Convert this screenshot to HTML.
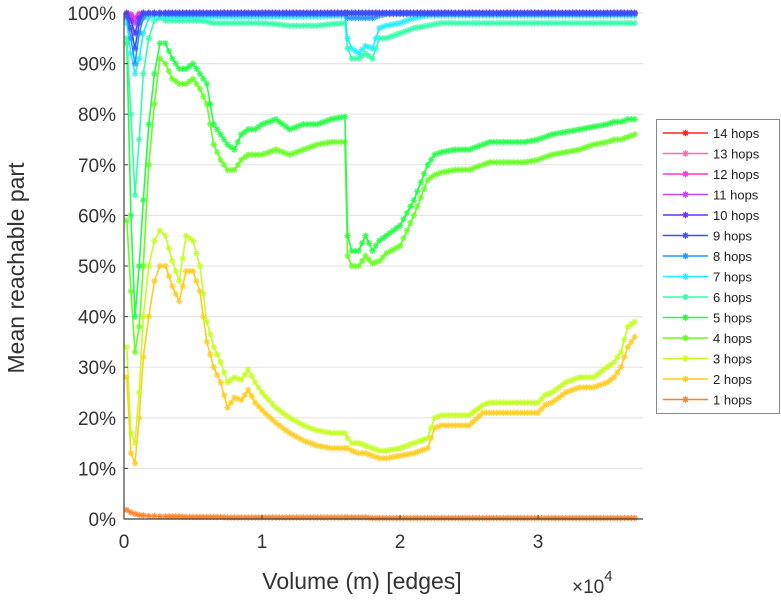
<!DOCTYPE html>
<html><head><meta charset="utf-8"><style>
body{margin:0;background:#fff;}
svg{display:block;font-family:"Liberation Sans",sans-serif;}
</style></head><body>
<svg id="chart" width="781" height="600" viewBox="0 0 781 600">
<g id="grid"></g>
<g id="series"></g>
<g id="axes"></g>
<text transform="translate(24,268) rotate(-90)" text-anchor="middle" font-size="23" fill="#333">Mean reachable part</text>
<text x="362" y="589" text-anchor="middle" font-size="23" fill="#333">Volume (m) [edges]</text>
<text x="572" y="593" font-size="19" fill="#333">×10<tspan dy="-12" font-size="15">4</tspan></text>
<g id="legend"></g>
</svg>
<script>
const xs=[0.02,0.05,0.08,0.11,0.14,0.18,0.22,0.26,0.30,0.35,0.40,0.45,0.50,0.55,0.60,0.65,0.70,0.75,0.80,0.85,0.90,0.95,1.0,1.1,1.2,1.3,1.4,1.5,1.6,1.62,1.65,1.7,1.75,1.8,1.85,1.9,2.0,2.1,2.2,2.25,2.3,2.4,2.5,2.6,2.65,2.7,2.8,2.9,3.0,3.05,3.1,3.2,3.3,3.4,3.5,3.55,3.6,3.65,3.7];
const hops1=[1.8,1.3,1.0,0.8,0.7,0.6,0.6,0.5,0.5,0.5,0.5,0.4,0.4,0.4,0.4,0.4,0.4,0.3,0.3,0.3,0.3,0.3,0.3,0.3,0.3,0.3,0.3,0.3,0.3,0.3,0.3,0.3,0.3,0.2,0.2,0.2,0.2,0.2,0.2,0.2,0.2,0.2,0.2,0.2,0.2,0.2,0.2,0.2,0.2,0.2,0.2,0.2,0.2,0.2,0.2,0.2,0.2,0.2,0.2];
const hops2=[28,13,11,20,32,40,47,50,50,46,43,49,49,45,35,30,27,22,24,23.5,25.5,23,21.5,19,17,15.5,14.5,14,14,14,13.5,13,13,12.5,12,12,12.5,13,14,18,18.5,18.5,18.5,21,21,21,21,21,21,22.5,23,25,26,26,27,28,30,34,36];
const hops3=[34,17,15,25,40,50,55,57,56,51,47,56,55,50,39,34,31,27,28,27.5,29.5,27,25,22,20,18.5,17.5,17,17,16,15,15,14.5,14,13.5,13.5,14,15,16,20,20.5,20.5,20.5,22.5,23,23,23,23,23,24.5,25,27,28,28,30,31,33,38,39];
const hops4=[59,45,33,38,50,70,82,91,90,87,86,86,87,85,82,74,71,69,69,71,72,72,72,73,72,73,74,74.5,74.5,52,50,50,52,50.5,51,52.5,54,60,67,68,68.5,69,69,70,70.5,70.5,70.5,70.5,71,71.5,72,72.5,73,74,74.5,75,75,75.5,76];
const hops5=[94,60,40,50,63,78,88,94,94,91,89,89,90,88,86,78,76,74,73,76,77,77,78,79,77,78,78,79,79.5,56,53,53,56,53,55,56,58,63,70,72,72.5,73,73,74,74.5,74.5,74.5,74.5,75,75.5,76,76.5,77,77.5,78,78.5,78.5,79,79];
const hops6=[95,80,64,75,88,95,98.5,99,98.5,98.5,98.5,98.5,98.5,98.5,98.3,98,98,98,98,98,98,98,98,97.8,97.5,97.5,97.5,97.8,98,93,91,91,92,91,95,95,96,97,97.5,97.8,98,98,98,98,98,98,98,98,98,98,98,98,98,98,98,98,98,98,98];
const hops7=[98,92,88,91,96,99,99.5,99.3,99.3,99.3,99.3,99.3,99.3,99.3,99.3,99.3,99.3,99.3,99.3,99.3,99.3,99.3,99.3,99.3,99.3,99.3,99.3,99.4,99.5,95,93,92,93.5,93,97,97.5,98,99,99.5,99.5,99.5,99.5,99.5,99.5,99.5,99.5,99.5,99.5,99.5,99.5,99.5,99.5,99.5,99.5,99.5,99.5,99.5,99.5,99.5];
const hops8=[99,95,90,96,99,99.8,99.8,99.8,99.8,99.8,99.8,99.8,99.8,99.8,99.8,99.8,99.8,99.8,99.8,99.8,99.8,99.8,99.8,99.8,99.8,99.8,99.8,99.8,99.8,99,99,99,99,99,99.5,99.8,99.8,99.8,99.8,99.8,99.8,99.8,99.8,99.8,99.8,99.8,99.8,99.8,99.8,99.8,99.8,99.8,99.8,99.8,99.8,99.8,99.8,99.8,99.8];
const hops9=[99.5,97,93,98,99.8,100,100,100,100,100,100,100,100,100,100,100,100,100,100,100,100,100,100,100,100,100,100,100,100,100,100,100,100,100,100,100,100,100,100,100,100,100,100,100,100,100,100,100,100,100,100,100,100,100,100,100,100,100,100];
const hops10=[100,98.5,96,99,100,100,100,100,100,100,100,100,100,100,100,100,100,100,100,100,100,100,100,100,100,100,100,100,100,100,100,100,100,100,100,100,100,100,100,100,100,100,100,100,100,100,100,100,100,100,100,100,100,100,100,100,100,100,100];
const hops11=[100,99.5,98,99.5,100,100,100,100,100,100,100,100,100,100,100,100,100,100,100,100,100,100,100,100,100,100,100,100,100,100,100,100,100,100,100,100,100,100,100,100,100,100,100,100,100,100,100,100,100,100,100,100,100,100,100,100,100,100,100];
const hops12=[100,99.7,99,99.8,100,100,100,100,100,100,100,100,100,100,100,100,100,100,100,100,100,100,100,100,100,100,100,100,100,100,100,100,100,100,100,100,100,100,100,100,100,100,100,100,100,100,100,100,100,100,100,100,100,100,100,100,100,100,100];
const hops13=hops12.slice();
const hops14=hops12.slice();
const seriesNames=["14 hops","13 hops","12 hops","11 hops","10 hops","9 hops","8 hops","7 hops","6 hops","5 hops","4 hops","3 hops","2 hops","1 hops"];
const seriesValues=[hops14,hops13,hops12,hops11,hops10,hops9,hops8,hops7,hops6,hops5,hops4,hops3,hops2,hops1];
const seriesColors=["#ff2020","#ff6aa8","#ff33dd","#c044ff","#6633ff","#3355ff","#2299ff","#22eeff","#33ffaa","#22ff44","#66ff22","#c4ff22","#ffcc22","#ff7f22"];
const drawOrder=[13,12,11,10,9,8,7,6,0,1,2,3,4,5];
const yTicks=[0,10,20,30,40,50,60,70,80,90,100];
const xTicks=[0,1,2,3];

const NS="http://www.w3.org/2000/svg";
const X0=124,X1=643,Y0=519,Y1=13,XMAX=3.76;
const xp=v=>X0+v/XMAX*(X1-X0);
const yp=v=>Y0-v/100*(Y0-Y1);
function mk(tag,attrs,parent){const e=document.createElementNS(NS,tag);for(const k in attrs)e.setAttribute(k,attrs[k]);parent.appendChild(e);return e;}
const grid=document.getElementById('grid'),axes=document.getElementById('axes'),ser=document.getElementById('series'),leg=document.getElementById('legend');
yTicks.forEach(t=>{
  const g=mk('line',{x1:X0,x2:X1,y1:yp(t),y2:yp(t),stroke:'#e6e6e6','stroke-width':1.2},grid);
  
  
  const tk=mk('line',{x1:X0,x2:X0+4,y1:yp(t),y2:yp(t),stroke:'#444'},axes);
  
  
  const tx=mk('text',{x:X0-8,y:yp(t)+7,'text-anchor':'end','font-size':19,fill:'#333'},axes);
  tx.textContent=t+'%';
  
  
});
xTicks.forEach(t=>{
  const tk=mk('line',{x1:xp(t),x2:xp(t),y1:Y0,y2:Y0-4,stroke:'#444'},axes);
  
  
  const tx=mk('text',{x:xp(t),y:Y0+29,'text-anchor':'middle','font-size':19,fill:'#333'},axes);
  tx.textContent=t;
  
  
});
const ax=mk('path',{d:`M${X0},${Y1} V${Y0} H${X1}`,fill:'none',stroke:'#444','stroke-width':1.2},axes);


function star(x,y,r){return `M${x-r},${y}h${2*r}M${x},${y-r}v${2*r}M${x-r*.7},${y-r*.7}l${1.4*r},${1.4*r}M${x-r*.7},${y+r*.7}l${1.4*r},${-1.4*r}`;}
drawOrder.forEach(s=>{
  const vals=seriesValues[s],c=seriesColors[s];
  const g=mk('g',{},ser);
  
  
  let d='',m='';
  vals.forEach((v,i)=>{const x=xp(xs[i]),y=yp(v);d+=(i?'L':'M')+x.toFixed(1)+','+y.toFixed(1);m+=star(x,y,3.2);
    if(i<vals.length-1){const x2=xp(xs[i+1]),y2=yp(vals[i+1]);const n=Math.max(0,Math.floor((x2-x)/3));for(let k=1;k<n;k++){m+=star(x+(x2-x)*k/n,y+(y2-y)*k/n,3.2);}}
  });
  mk('path',{d:d,fill:'none',stroke:c,'stroke-width':1.6},g);
  mk('path',{d:m,fill:'none',stroke:c,'stroke-width':1.3,'stroke-opacity':0.85},g);
});
const box=mk('rect',{x:656.5,y:119.5,width:123,height:294,fill:'#fff',stroke:'#888'},leg);


seriesNames.forEach((n,i)=>{
  const y=133+i*20.5;
  const g=mk('g',{},leg);
  
  
  mk('line',{x1:663,x2:708,y1:y,y2:y,stroke:seriesColors[i],'stroke-width':1.6},g);
  mk('path',{d:star(685.5,y,3.2),stroke:seriesColors[i],fill:'none','stroke-width':1.3},g);
  const t=mk('text',{x:713,y:y+5,'font-size':13,fill:'#222'},g);
  t.textContent=n;
});
</script>
</body></html>
